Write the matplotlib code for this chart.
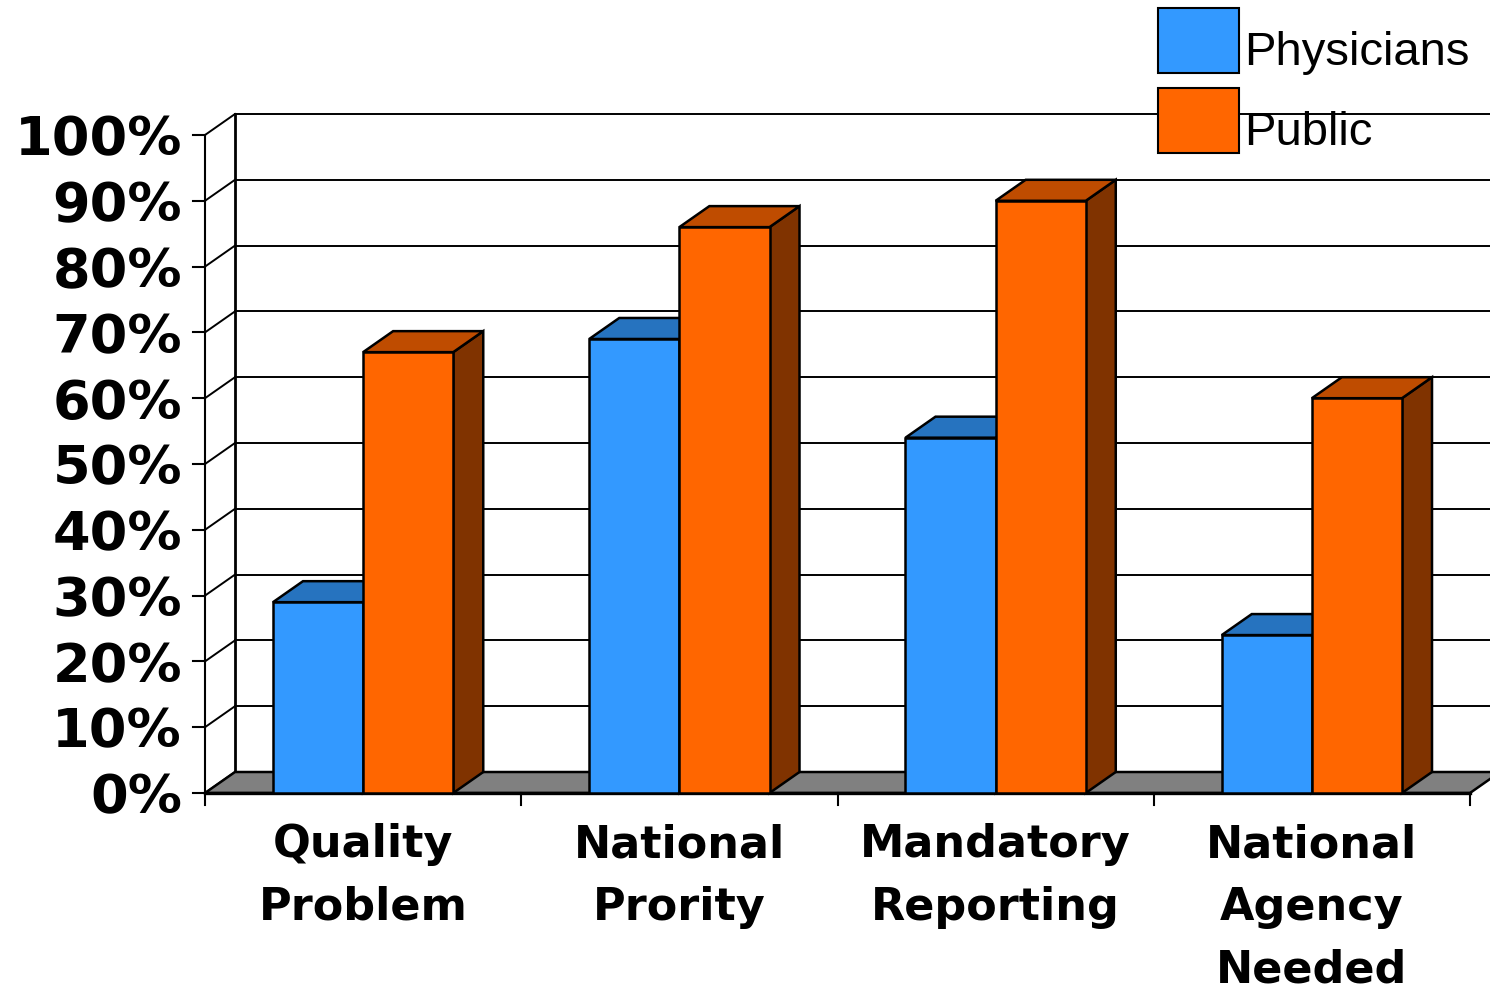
import matplotlib.pyplot as plt
from matplotlib.patches import Polygon, Rectangle
from matplotlib.transforms import offset_copy

categories = ['Quality\nProblem', 'National\nPrority', 'Mandatory\nReporting',
              'National\nAgency\nNeeded']
physicians = [29, 69, 54, 24]
public = [67, 86, 90, 60]
series = ['Physicians', 'Public']
y_ticks = list(range(0, 101, 10))

# face colours: front, top, side
colors = {
    'Physicians': ('#3399FF', '#2673BF', '#1A4C80'),
    'Public': ('#FF6600', '#BF4C00', '#803300'),
}

W, H = 1490, 986
fig = plt.figure(figsize=(W / 100, H / 100), dpi=100)
ax = fig.add_axes([0, 0, 1, 1])
ax.axis('off')

# plot box in pixels, then data units per pixel
x0_px, x1_px = 205, 1470
y0_px, y100_px = 793, 135
n = len(categories)
px_x = (x1_px - x0_px) / n
px_y = (y0_px - y100_px) / 100
ax.set_xlim(-x0_px / px_x, (W - x0_px) / px_x)
ax.set_ylim(-(H - y0_px) / px_y, y0_px / px_y)
DX = 30 / px_x
DY = 21 / px_y

# back wall gridlines and side wall diagonals
for v in y_ticks:
    ax.plot([DX, n + DX + 0.5], [v + DY, v + DY], color='black', lw=1.4, zorder=1)
    ax.plot([0, DX], [v, v + DY], color='black', lw=1.4, zorder=1)
ax.plot([DX, DX], [DY, 100 + DY], color='black', lw=2, zorder=1)
ax.plot([0, 0], [0, 100], color='black', lw=1.5, zorder=1)

# floor
ax.add_patch(Polygon([(0, 0), (n, 0), (n + DX, DY), (DX, DY)], closed=True,
                     fc='#808080', ec='black', lw=1.8, zorder=2))
ax.plot([0, n], [0, 0], color='black', lw=2.4, zorder=2)

# ticks
tick_x = 12 / px_x
tick_y = 12 / px_y
for v in y_ticks:
    ax.plot([-tick_x, 0], [v, v], color='black', lw=1.5, zorder=2)
for i in range(n + 1):
    ax.plot([i, i], [0, -tick_y], color='black', lw=1.5, zorder=2)

# 3d bars
gap = 0.215
bw = (1 - 2 * gap) / 2
for i in range(n):
    for j, (name, vals) in enumerate(zip(series, [physicians, public])):
        front, top, side = colors[name]
        x = i + gap + j * bw
        v = vals[i]
        ax.add_patch(Polygon([(x + bw, 0), (x + bw + DX, DY), (x + bw + DX, v + DY), (x + bw, v)],
                             closed=True, fc=side, ec='black', lw=1.8, zorder=3))
        ax.add_patch(Polygon([(x, v), (x + bw, v), (x + bw + DX, v + DY), (x + DX, v + DY)],
                             closed=True, fc=top, ec='black', lw=1.8, zorder=3))
        ax.add_patch(Rectangle((x, 0), bw, v, fc=front, ec='black', lw=1.8, zorder=3))

# axis labels
ylab_tr = offset_copy(ax.transData, fig=fig, x=-23, y=0, units='dots')
for v in y_ticks:
    ax.text(0, v, f'{v}%', transform=ylab_tr, ha='right', va='center_baseline',
            fontsize=39, fontweight='bold', family='DejaVu Sans')

xlab_tr = offset_copy(ax.transData, fig=fig, x=0, y=-30, units='dots')
for i, lab in enumerate(categories):
    ax.text(i + 0.5, 0, lab, transform=xlab_tr, ha='center', va='top',
            fontsize=32, fontweight='bold', family='DejaVu Sans', linespacing=1.58)

# legend
for k, name in enumerate(series):
    top_px = 8 + k * 80
    fig.add_artist(Rectangle((1158 / W, 1 - (top_px + 65) / H), 81 / W, 65 / H,
                             transform=fig.transFigure, fc=colors[name][0],
                             ec='black', lw=1.5, zorder=5))
    fig.text(1244 / W, 1 - (top_px + 57) / H, name, ha='left', va='baseline',
             fontsize=34, family='Liberation Sans', zorder=4)

fig.savefig('out.png', dpi=100)
